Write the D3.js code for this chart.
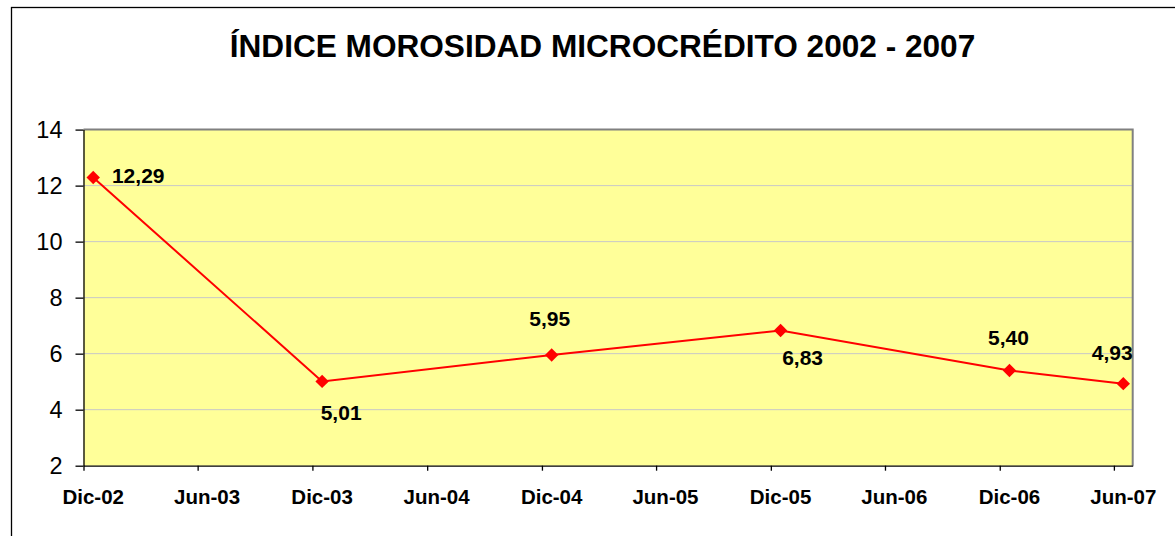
<!DOCTYPE html>
<html>
<head>
<meta charset="utf-8">
<script src="https://cdn.jsdelivr.net/npm/d3@7"></script>
<style>
  body { margin: 0; background: #fff; }
  svg { display: block; font-family: "Liberation Sans", Arial, sans-serif; }
</style>
</head>
<body>
<svg id="chart" width="1175" height="536"></svg>
<script>
// data
var months = ["2002-12", "2003-12", "2004-12", "2005-12", "2006-12", "2007-06"];
var morosidad = [12.29, 5.01, 5.95, 6.83, 5.40, 4.93];
var valueLabels = ["12,29", "5,01", "5,95", "6,83", "5,40", "4,93"];
var tickLabels = ["Dic-02", "Jun-03", "Dic-03", "Jun-04", "Dic-04", "Jun-05", "Dic-05", "Jun-06", "Dic-06", "Jun-07"];
var yTicks = [2, 4, 6, 8, 10, 12, 14];

// where each value label sits relative to its point (dx, dy of baseline centre)
var labelOffset = [[45, 6], [19, 39], [-2, -29], [22, 35], [-1, -25], [-11, -24]];

var svg = d3.select("#chart");
var parseMonth = d3.timeParse("%Y-%m");

var plot = { left: 83.5, right: 1132.7, top: 129.6, bottom: 465.7 };

// month slots, like a date axis with month base unit
var start = parseMonth("2002-12");
var end = d3.timeMonth.offset(parseMonth("2007-06"), 1);
function midMonth(d) {
  var next = d3.timeMonth.offset(d, 1);
  return new Date((d.getTime() + next.getTime()) / 2);
}

var x = d3.scaleTime().domain([start, end]).range([plot.left, plot.right]);
var y = d3.scaleLinear().domain([2, 14]).range([plot.bottom, plot.top]);

// outer chart border
svg.append("rect")
  .attr("x", 11.5).attr("y", 7.5)
  .attr("width", 1200).attr("height", 600)
  .attr("fill", "none")
  .attr("stroke", "#000")
  .attr("stroke-width", 1.3);

// title
svg.append("text")
  .attr("x", 602.5).attr("y", 57)
  .attr("text-anchor", "middle")
  .attr("font-weight", "bold")
  .attr("font-size", 31.6)
  .text("ÍNDICE MOROSIDAD MICROCRÉDITO 2002 - 2007");

// plot background
svg.append("rect")
  .attr("x", plot.left).attr("y", plot.top)
  .attr("width", plot.right - plot.left)
  .attr("height", plot.bottom - plot.top)
  .attr("fill", "#FFFF99");

// gridlines
svg.append("g")
  .selectAll("line")
  .data(yTicks.filter(function (t) { return t > 2 && t < 14; }))
  .enter()
  .append("line")
  .attr("x1", plot.left).attr("x2", plot.right)
  .attr("y1", function (d) { return y(d); })
  .attr("y2", function (d) { return y(d); })
  .attr("stroke", "#C8C8C8")
  .attr("stroke-width", 1);

// gray frame on top and right
svg.append("path")
  .attr("d", "M" + plot.left + "," + plot.top + "H" + plot.right + "V" + plot.bottom)
  .attr("fill", "none")
  .attr("stroke", "#808080")
  .attr("stroke-width", 2);

// y axis
var yAxis = svg.append("g")
  .attr("transform", "translate(" + plot.left + ",0)")
  .call(d3.axisLeft(y).tickValues(yTicks).tickSize(8).tickSizeOuter(0).tickPadding(13));
yAxis.selectAll("text")
  .attr("font-size", 23.5)
  .attr("font-family", "Liberation Sans, Arial, sans-serif")
  .attr("fill", "#000");
yAxis.selectAll("line, path").attr("stroke", "#000").attr("stroke-width", 1.3);

// x axis tick marks at month starts, every 6 months from Dec
var tickDates = d3.timeMonth.range(start, end, 6);
var xAxis = svg.append("g")
  .attr("transform", "translate(0," + plot.bottom + ")")
  .call(d3.axisBottom(x).tickValues(tickDates).tickSize(5).tickSizeOuter(0).tickFormat(""));
xAxis.selectAll("line, path").attr("stroke", "#000").attr("stroke-width", 1.3);

// x labels sit in the middle of their month
svg.append("g")
  .selectAll("text")
  .data(tickDates)
  .enter()
  .append("text")
  .attr("x", function (d) { return x(midMonth(d)); })
  .attr("y", 504)
  .attr("text-anchor", "middle")
  .attr("font-weight", "bold")
  .attr("font-size", 20.5)
  .text(function (d, i) { return tickLabels[i]; });

// series
var points = months.map(function (m, i) {
  return { date: midMonth(parseMonth(m)), value: morosidad[i], label: valueLabels[i], off: labelOffset[i] };
});

var line = d3.line()
  .x(function (d) { return x(d.date); })
  .y(function (d) { return y(d.value); });

svg.append("path")
  .datum(points)
  .attr("d", line)
  .attr("fill", "none")
  .attr("stroke", "#FF0000")
  .attr("stroke-width", 2);

svg.append("g")
  .selectAll("path")
  .data(points)
  .enter()
  .append("path")
  .attr("d", d3.symbol().type(d3.symbolSquare).size(90))
  .attr("transform", function (d) {
    return "translate(" + x(d.date) + "," + y(d.value) + ") rotate(45)";
  })
  .attr("fill", "#FF0000");

svg.append("g")
  .selectAll("text")
  .data(points)
  .enter()
  .append("text")
  .attr("x", function (d) { return x(d.date) + d.off[0]; })
  .attr("y", function (d) { return y(d.value) + d.off[1]; })
  .attr("text-anchor", "middle")
  .attr("font-weight", "bold")
  .attr("font-size", 21)
  .text(function (d) { return d.label; });
</script>
</body>
</html>
